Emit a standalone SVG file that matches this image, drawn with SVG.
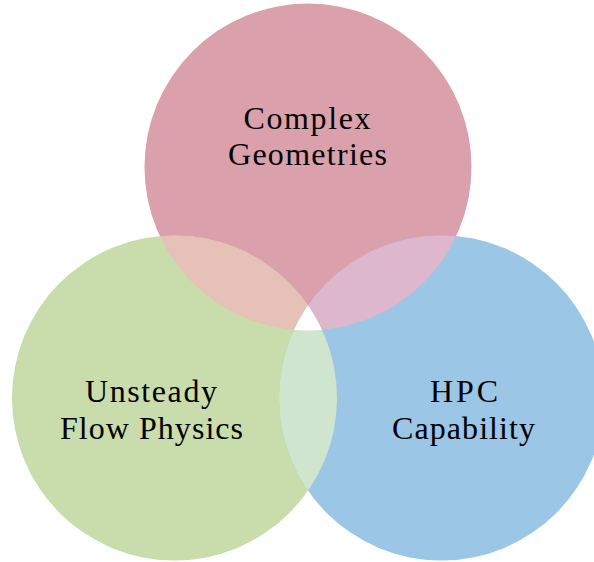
<svg xmlns="http://www.w3.org/2000/svg" width="594" height="562" viewBox="0 0 594 562">
<style>
.lbl{font-family:"Liberation Serif","DejaVu Serif",serif;font-size:32px;fill:#000;text-anchor:middle}
</style>
<defs>
<clipPath id="cTop"><circle cx="308" cy="167" r="163.5"/></clipPath>
<clipPath id="cLeft"><circle cx="174.5" cy="398" r="162.5"/></clipPath>
<clipPath id="cRight"><circle cx="441.5" cy="398" r="162.5"/></clipPath>
</defs>
<rect width="594" height="562" fill="#fff"/>
<g id="node-top"><circle cx="308" cy="167" r="163.5" fill="#DAA0AB"/></g>
<g id="node-left"><circle cx="174.5" cy="398" r="162.5" fill="#C9DCAB"/></g>
<g id="node-right"><circle cx="441.5" cy="398" r="162.5" fill="#9CC6E6"/></g>
<g id="overlaps">
<g clip-path="url(#cTop)"><circle cx="174.5" cy="398" r="162.5" fill="#E5C1B7"/><circle cx="441.5" cy="398" r="162.5" fill="#DDB7CB"/></g>
<g clip-path="url(#cLeft)"><circle cx="441.5" cy="398" r="162.5" fill="#CFE5CE"/></g>
<g clip-path="url(#cTop)"><g clip-path="url(#cLeft)"><circle cx="441.5" cy="398" r="162.5" fill="#fff"/></g></g>
</g>
<g id="labels">
<text class="lbl" x="307" y="129" textLength="127">Complex</text>
<text class="lbl" x="307.5" y="165" textLength="159">Geometries</text>
<text class="lbl" x="151" y="402" textLength="132">Unsteady</text>
<text class="lbl" x="151.5" y="439" textLength="183">Flow Physics</text>
<text class="lbl" x="464" y="402" textLength="68">HPC</text>
<text class="lbl" x="463.5" y="439" textLength="143">Capability</text>
</g>
</svg>
